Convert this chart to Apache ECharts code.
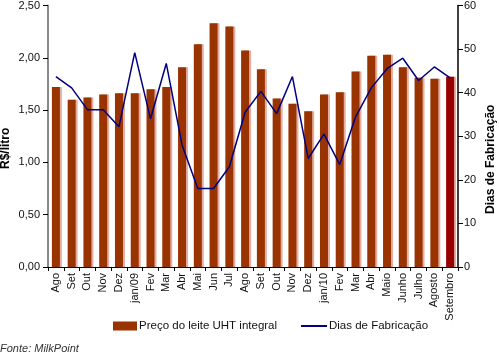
<!DOCTYPE html>
<html>
<head>
<meta charset="utf-8">
<script src="https://cdn.jsdelivr.net/npm/echarts@6/dist/echarts.min.js"></script>
<style>
html,body{margin:0;padding:0;background:#fff;}
#c{width:499px;height:356px;}
</style>
</head>
<body>
<div id="c"></div>
<script>
const categories = ['Ago','Set','Out','Nov','Dez','jan/09','Fev','Mar','Abr','Mai','Jun','Jul','Ago','Set','Out','Nov','Dez','jan/10','Fev','Mar','Abr','Maio','Junho','Julho','Agosto','Setembro'];
const precoLeite = [1.72,1.60,1.62,1.65,1.66,1.66,1.70,1.72,1.91,2.13,2.33,2.30,2.07,1.89,1.61,1.56,1.49,1.65,1.67,1.87,2.02,2.03,1.91,1.81,1.80,1.82];
const diasFabricacao = [43.7,41.1,36.1,36.1,32.2,49.2,34.0,46.7,28.0,18.0,18.0,23.0,35.5,40.3,35.2,43.7,24.9,30.5,23.5,34.4,41.1,45.5,47.9,42.8,45.9,43.4];
const leftTicks = [0,0.5,1,1.5,2,2.5];
const rightTicks = [0,10,20,30,40,50,60];
const seriesNames = ['Preço do leite UHT integral','Dias de Fabricação'];

const font = 'Arial, "Liberation Sans", sans-serif';
const chart = echarts.init(document.getElementById('c'), null, {renderer:'canvas'});
const barData = precoLeite.map((v,i)=> i===precoLeite.length-1 ? {value:v, itemStyle:{color:'#990000'}} : v);

chart.setOption({
  animation:false,
  backgroundColor:'#fff',
  grid:{left:48,right:41,top:5,bottom:89,containLabel:false},
  legend:[
    {data:[seriesNames[0]],left:108,top:315,itemWidth:24,itemHeight:9,itemGap:0,icon:'rect',
     textStyle:{fontFamily:font,fontSize:11.5,color:'#111',padding:[0,0,0,-3]}},
    {data:[{name:seriesNames[1],icon:'rect',itemStyle:{color:'#000080'}}],left:296,top:315,itemWidth:26,itemHeight:2,itemGap:0,
     textStyle:{fontFamily:font,fontSize:11.5,color:'#111',padding:[0,0,0,-3]}}
  ],
  xAxis:{
    type:'category',data:categories,boundaryGap:true,
    axisLine:{lineStyle:{color:'#000',width:1}},
    axisTick:{show:true,length:4,lineStyle:{color:'#000'}},
    axisLabel:{rotate:90,fontFamily:font,fontSize:11,color:'#111',margin:6,interval:0}
  },
  yAxis:[
    {type:'value',min:leftTicks[0],max:leftTicks[leftTicks.length-1],interval:0.5,
     axisLine:{show:true,lineStyle:{color:'#888',width:2}},
     axisTick:{show:true,length:5,lineStyle:{color:'#000'}},
     splitLine:{show:false},
     axisLabel:{fontFamily:font,fontSize:11,color:'#111',margin:8,
       formatter:v=>v.toFixed(2).replace('.',',')}},
    {type:'value',min:rightTicks[0],max:rightTicks[rightTicks.length-1],interval:10,position:'right',
     axisLine:{show:true,lineStyle:{color:'#000',width:1.5}},
     axisTick:{show:true,length:5,lineStyle:{color:'#000'}},
     splitLine:{show:false},
     axisLabel:{fontFamily:font,fontSize:11,color:'#111',margin:6}}
  ],
  graphic:[
    {type:'text',x:0,y:169,rotation:Math.PI/2,
     style:{text:'R$/litro',font:'bold 12px '+font,fill:'#000'}},
    {type:'text',x:485,y:214,rotation:Math.PI/2,
     style:{text:'Dias de Fabricação',font:'bold 12px '+font,fill:'#000'}},
    {type:'text',left:0,top:343,
     style:{text:'Fonte: MilkPoint',font:'italic 11px '+font,fill:'#333'}}
  ],
  series:[
    {name:seriesNames[0],type:'bar',yAxisIndex:0,data:barData,barWidth:8,
     itemStyle:{color:'#993300',shadowColor:'rgba(215,140,120,0.7)',shadowOffsetX:2,shadowBlur:0}},
    {name:seriesNames[1],type:'line',yAxisIndex:1,data:diasFabricacao,symbol:'none',
     lineStyle:{color:'#000080',width:1.5},itemStyle:{color:'#000080'}}
  ]
});
</script>
</body>
</html>
